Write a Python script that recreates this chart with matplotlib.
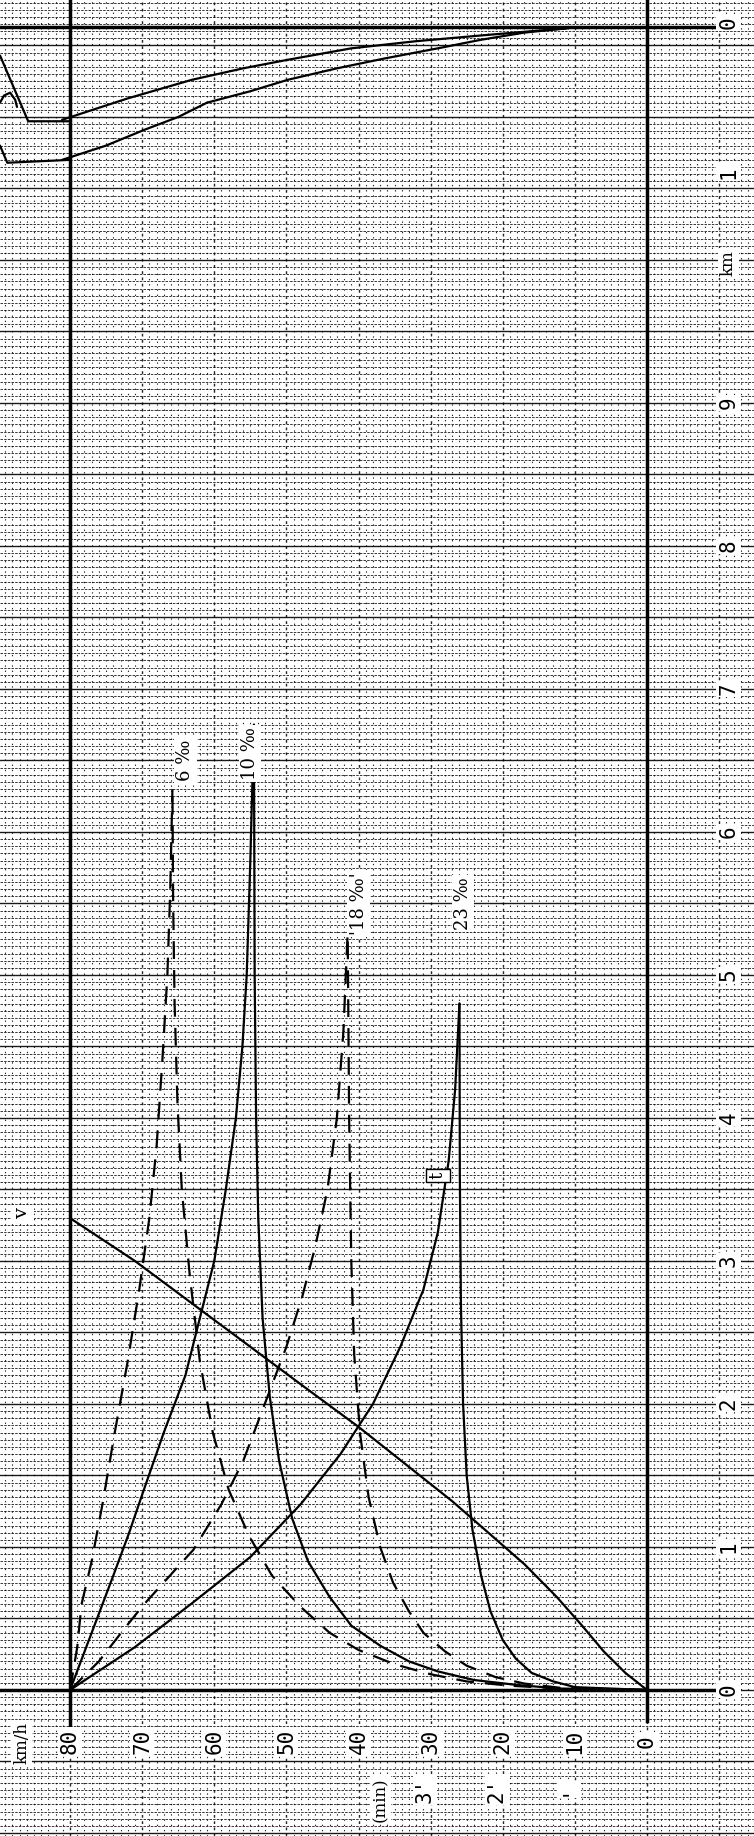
import numpy as np
import matplotlib
matplotlib.use("Agg")
import matplotlib.pyplot as plt

# ---------------- data (speed km/h or time*10, distance km) ----------------
speed_ticks = [80, 70, 60, 50, 40, 30, 20, 10, 0]
speed_labels = ["80", "70", "60", "50", "40", "30", "20", "10", "0"]
time_ticks = [30, 20, 10]
time_labels = ["3'", "2'", "'"]
km_ticks = [0, 1, 2, 3, 4, 5, 6, 7, 8, 9]
km_labels = ["0", "1", "2", "3", "4", "5", "6", "7", "8", "9"]

dec6_v = [80, 79, 78.4, 77, 75.5, 73.8, 72, 70.4, 69, 68, 67.2, 66.5, 66.1, 65.8]
dec6_s = [0, 0.3, 0.6, 0.9, 1.3, 1.8, 2.3, 2.8, 3.3, 3.8, 4.4, 5.0, 5.6, 6.3]
acc6_v = [0, 12, 19, 25, 30, 35, 40, 44, 48, 52, 55.2, 58, 60.2, 62, 63.4, 64.5, 65.1, 65.5, 65.7, 65.8]
acc6_s = [0, 0.01, 0.03, 0.06, 0.11, 0.18, 0.28, 0.4, 0.58, 0.8, 1.08, 1.4, 1.8, 2.3, 2.9, 3.5, 4.1, 4.8, 5.5, 6.3]

dec10_v = [80, 77, 74, 71.8, 69.9, 67, 64, 62, 60, 58.4, 57, 56.1, 55.5, 55, 54.5]
dec10_s = [0, 0.4, 0.8, 1.1, 1.38, 1.8, 2.2, 2.6, 3.0, 3.5, 4.0, 4.5, 5.0, 5.8, 6.75]
acc10_v = [0, 12, 18, 24, 29, 33, 37, 41, 44, 47, 49.2, 51, 52.3, 53.3, 53.9, 54.2, 54.4, 54.5]
acc10_s = [0, 0.01, 0.035, 0.07, 0.13, 0.2, 0.31, 0.45, 0.65, 0.9, 1.2, 1.6, 2.05, 2.6, 3.3, 4.0, 5.0, 6.75]

dec18_v = [80, 76, 72.6, 69.9, 66.5, 64.9, 62.9, 59, 56, 53, 50, 47.8, 46, 44.3, 43, 42.1, 41.5]
dec18_s = [0, 0.2, 0.42, 0.59, 0.78, 0.87, 0.98, 1.3, 1.6, 2.0, 2.4, 2.75, 3.1, 3.5, 4.0, 4.6, 5.3]
acc18_v = [0, 12, 17, 21, 25, 28, 31, 33, 35.2, 37, 38.6, 39.8, 40.6, 41, 41.3, 41.5]
acc18_s = [0, 0.015, 0.045, 0.09, 0.17, 0.27, 0.4, 0.55, 0.75, 1.0, 1.35, 1.8, 2.35, 3.0, 4.0, 5.3]

dec23_v = [80, 71, 63, 55, 48, 42.5, 38, 34.2, 31, 29, 27.5, 26.6, 26]
dec23_s = [0, 0.3, 0.61, 0.93, 1.3, 1.65, 2.0, 2.4, 2.8, 3.2, 3.7, 4.2, 4.8]
acc23_v = [0, 10, 13, 16, 18.2, 20, 21.7, 23, 24.2, 25, 25.5, 25.8, 25.95, 26]
acc23_s = [0, 0.02, 0.06, 0.12, 0.22, 0.35, 0.55, 0.8, 1.12, 1.5, 2.0, 2.7, 3.6, 4.8]

t23_v = [0, 3, 6, 9, 12.5, 17, 22, 27, 33, 40, 47, 55, 63, 71, 80]
t23_s = [0, 0.12, 0.27, 0.45, 0.65, 0.88, 1.1, 1.32, 1.56, 1.84, 2.1, 2.4, 2.7, 3.0, 3.3]

brk_a_v = [81.1, 72, 63.1, 56, 49.8, 41, 32, 23, 16, 11.1]
brk_a_s = [10.98, 11.13, 11.26, 11.34, 11.40, 11.48, 11.53, 11.57, 11.60, 11.62]
brk_b_v = [81.1, 75, 69.7, 65, 61, 55, 49.8, 43, 36.3, 29, 23, 17, 11.1]
brk_b_s = [10.70, 10.80, 10.91, 11.0, 11.10, 11.18, 11.26, 11.34, 11.41, 11.48, 11.54, 11.59, 11.62]

# fragments of the station sketch cut off at the left edge
sk1_v = [89.71, 85.8, 80.0]
sk1_s = [11.43, 10.97, 10.97]
sk2_v = [89.71, 89.15, 88.3, 87.6, 87.35]
sk2_s = [11.10, 11.15, 11.17, 11.12, 11.07]
sk3_v = [89.71, 88.7, 80.0]
sk3_s = [10.80, 10.68, 10.70]

grade_labels = ["6 ‰", "10 ‰", "'18 ‰'", "23 ‰"]
grade_pos_v = [64.0, 55.0, 40.0, 25.5]
grade_pos_s = [6.5, 6.55, 5.5, 5.5]

# ---------------- figure ----------------
fig = plt.figure(figsize=(7.54, 18.36), dpi=100)
ax = fig.add_axes([0, 0, 1, 1])
x_left, x_right = 89.71, -14.84
y_bot, y_top = -1.021, 11.818
ax.set_xlim(x_left, x_right)
ax.set_ylim(y_bot, y_top)
ax.axis("off")

# graph-paper grid
for s in np.arange(-1.0, 11.85, 0.05):
    major = abs(s / 0.5 - round(s / 0.5)) < 1e-6
    ax.axhline(s, color="black", lw=1.0 if major else 0.6,
               ls=(0, (3.0, 1.4)) if not major else "-", alpha=0.9, zorder=0)
for v in np.arange(-14, 90, 1.0):
    major = v % 10 == 0
    ax.axvline(v, color="black", lw=1.0 if major else 0.8,
               ls=(0, (1.2, 3.5)) if not major else (0, (2, 2.5)), alpha=0.85, zorder=0)

# main axis lines
lw_axis = 2.5
ax.plot([80, 80], [y_top, -0.25], color="black", lw=lw_axis)
ax.plot([0, 0], [y_top, -0.22], color="black", lw=lw_axis)
ax.plot([x_left, -9.8], [0, 0], color="black", lw=lw_axis)
ax.plot([x_left, -9.8], [11.63, 11.63], color="black", lw=lw_axis)

lw = 1.6
dash = (0, (8, 5))
kw = dict(color="black", lw=lw, solid_joinstyle="round", solid_capstyle="round")
ax.plot(dec6_v, dec6_s, ls=dash, **kw)
ax.plot(acc6_v, acc6_s, ls=dash, **kw)
ax.plot(dec10_v, dec10_s, **kw)
ax.plot(acc10_v, acc10_s, **kw)
ax.plot(dec18_v, dec18_s, ls=dash, **kw)
ax.plot(acc18_v, acc18_s, ls=dash, **kw)
ax.plot(dec23_v, dec23_s, **kw)
ax.plot(acc23_v, acc23_s, **kw)
ax.plot(t23_v, t23_s, **kw)
ax.plot(brk_a_v, brk_a_s, **kw)
ax.plot(brk_b_v, brk_b_s, **kw)
for sv, ss in ((sk1_v, sk1_s), (sk2_v, sk2_s), (sk3_v, sk3_s)):
    ax.plot(sv, ss, **kw)

fs = 15
box = dict(facecolor="white", edgecolor="none", pad=1.5)
for v, lab in zip(speed_ticks, speed_labels):
    ax.text(v, -0.36, lab, rotation=90, ha="center", va="center", fontsize=fs,
            family="DejaVu Sans Mono", bbox=box)
ax.text(86.7, -0.37, "km/h", rotation=90, ha="center", va="center", fontsize=12,
        family="DejaVu Serif", bbox=box)
for v, lab in zip(time_ticks, time_labels):
    ax.text(v + 0.8, -0.70, lab, rotation=90, ha="center", va="center", fontsize=fs,
            family="DejaVu Sans Mono", bbox=box)
ax.text(37.0, -0.77, "(min)", rotation=90, ha="center", va="center", fontsize=12,
        family="DejaVu Serif", bbox=box)
for s, lab in zip(km_ticks, km_labels):
    ax.text(-11.3, s, lab, rotation=90, ha="center", va="center", fontsize=fs,
            family="DejaVu Sans Mono", bbox=box)
ax.text(-11.3, 9.98, "km", rotation=90, ha="center", va="center", fontsize=12,
        family="DejaVu Serif", bbox=box)
ax.text(-11.3, 10.61, "1", rotation=90, ha="center", va="center", fontsize=fs,
        family="DejaVu Sans Mono", bbox=box)
ax.text(-11.3, 11.66, "0", rotation=90, ha="center", va="center", fontsize=fs,
        family="DejaVu Sans Mono", bbox=box)

for v, s, lab in zip(grade_pos_v, grade_pos_s, grade_labels):
    ax.text(v, s, lab, rotation=90, ha="center", va="center", fontsize=13,
            family="DejaVu Serif", bbox=box)
ax.text(29.0, 3.6, "t", rotation=90, ha="center", va="center", fontsize=13,
        family="DejaVu Serif", bbox=dict(facecolor="white", edgecolor="black", pad=2))
ax.text(86.6, 3.33, "v", rotation=90, ha="center", va="center", fontsize=14,
        family="DejaVu Serif", bbox=box)

fig.savefig("out.png", dpi=100)
